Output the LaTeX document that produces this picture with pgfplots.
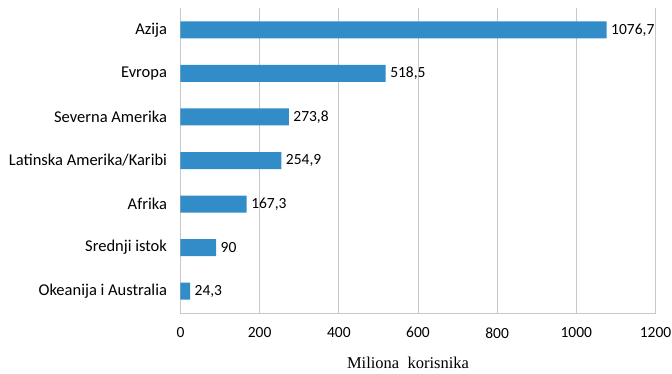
\documentclass[border=0pt]{standalone}
\usepackage{fontspec}
\setmainfont{Carlito}
\newfontfamily\serifx{Liberation Serif}
\usepackage{pgfplots}
\pgfplotsset{compat=1.18}
\definecolor{barblue}{RGB}{49,140,200}
\definecolor{gridgray}{RGB}{200,200,200}
\begin{document}
\begin{tikzpicture}
\path[use as bounding box] (-180.5pt,-61pt) rectangle (491.5pt,313pt);
\begin{axis}[
  at={(0pt,0pt)}, anchor=south west,
  scale only axis, width=475pt, height=305pt,
  xbar, bar width=17pt,
  xmin=0, xmax=1200, ymin=-0.5, ymax=6.5,
  xtick={0,200,...,1200},
  ytick={0,1,2,3,4,5,6},
  yticklabels={Okeanija i Australia,Srednji istok,Afrika,Latinska Amerika/Karibi,Severna Amerika,Evropa,Azija},
  xmajorgrids, major grid style={gridgray, line width=0.8pt},
  axis line style={gridgray, line width=0.8pt},
  axis x line*=bottom, axis y line*=left,
  major tick length=0pt,
  tick style={draw=none},
  xticklabel style={font=\fontsize{15.5}{18}\selectfont, yshift=-11pt},
  yticklabel style={font=\fontsize{16.5}{19}\selectfont, xshift=-10pt},
  /pgf/number format/assume math mode=true,
  /pgf/number format/use comma,
  /pgf/number format/1000 sep={},
  xlabel={\serifx\fontsize{16.5}{19}\selectfont Miliona\ \ korisnika},
  xlabel style={yshift=-12pt, xshift=-10pt},
  nodes near coords,
  nodes near coords style={font=\fontsize{15.5}{18}\selectfont, anchor=west, xshift=1pt, /pgf/number format/use comma, /pgf/number format/1000 sep={}},
]
\addplot[fill=barblue, draw=none] coordinates {
  (24.3,0) (90,1) (167.3,2) (254.9,3) (273.8,4) (518.5,5) (1076.7,6)
};
\end{axis}
\end{tikzpicture}
\end{document}
